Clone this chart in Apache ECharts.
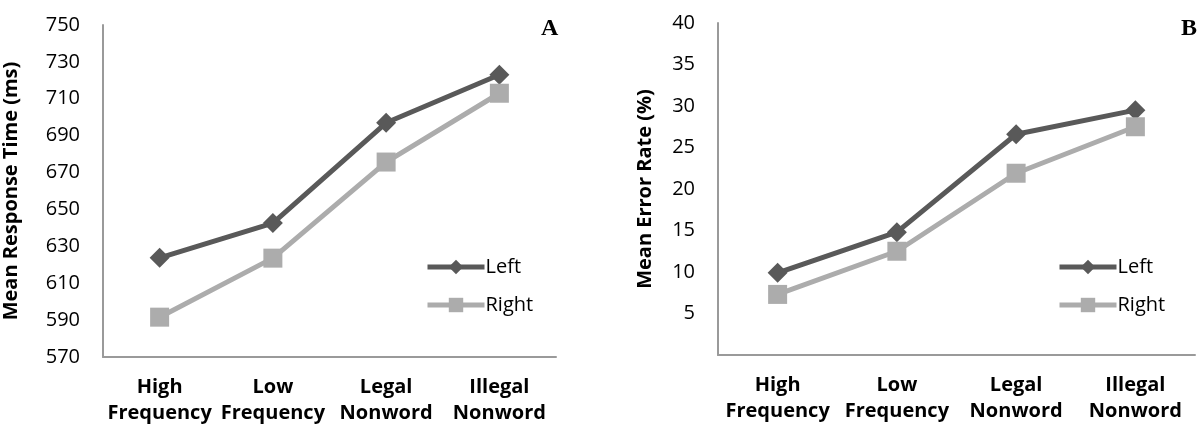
<!DOCTYPE html>
<html>
<head>
<meta charset="utf-8">
<script src="https://cdn.jsdelivr.net/npm/echarts@6/dist/echarts.min.js"></script>
<style>
  html, body { margin: 0; padding: 0; background: #fff; }
  #main { width: 1204px; height: 431px; }
</style>
</head>
<body>
<div id="main"></div>
<script>
const categories = ['High\nFrequency', 'Low\nFrequency', 'Legal\nNonword', 'Illegal\nNonword'];
const rtLeft = [623.8, 642.6, 697, 723];
const rtRight = [591.6, 623.6, 675.7, 713];
const errLeft = [9.9, 14.8, 26.6, 29.5];
const errRight = [7.3, 12.5, 21.9, 27.5];

const font = '"Open Sans", "Noto Sans", sans-serif';
const darkGray = '#595959';
const lightGray = '#acacac';

const myChart = echarts.init(document.getElementById('main'));

const xAxisBase = (gridIndex) => ({
  type: 'category',
  gridIndex: gridIndex,
  data: categories,
  boundaryGap: true,
  axisLine: { lineStyle: { color: '#9a9a9a', width: 2 } },
  axisTick: { show: false },
  axisLabel: {
    interval: 0,
    margin: 17,
    color: '#000',
    fontFamily: font,
    fontWeight: 'bold',
    fontSize: 20,
    lineHeight: 26
  }
});

const yAxisBase = (gridIndex, min, max, interval, name, nameGap) => ({
  type: 'value',
  gridIndex: gridIndex,
  min: min,
  max: max,
  interval: interval,
  name: name,
  nameLocation: 'middle',
  nameGap: nameGap,
  nameTextStyle: { fontFamily: font, fontWeight: 'bold', fontSize: 20, color: '#000' },
  splitLine: { show: false },
  axisLine: { show: true, lineStyle: { color: '#9a9a9a', width: 2 } },
  axisTick: { show: false },
  axisLabel: {
    margin: 23,
    color: '#000',
    fontFamily: font,
    fontSize: 20
  }
});

const lineSeries = (name, data, idx, color, symbol, size) => ({
  name: name,
  type: 'line',
  xAxisIndex: idx,
  yAxisIndex: idx,
  data: data,
  symbol: symbol,
  symbolSize: size,
  lineStyle: { color: color, width: 5 },
  itemStyle: { color: color },
  emphasis: { disabled: true },
  animation: false
});

const legendBase = (left) => ({
  left: left,
  top: 252,
  orient: 'vertical',
  itemWidth: 57,
  itemHeight: 18,
  itemGap: 18,
  data: ['Left', 'Right'],
  lineStyle: { width: 5 },
  textStyle: { fontFamily: font, fontSize: 20, color: '#000', padding: [0, 0, 0, -4] }
});

const rightAxis = yAxisBase(1, 0, 40, 5, 'Mean Error Rate (%)', 63);
rightAxis.axisLabel.showMinLabel = false;

const option = {
  backgroundColor: '#fff',
  title: [
    { text: 'A', left: 536, top: 12, textStyle: { fontFamily: '"Liberation Serif", serif', fontWeight: 'bold', fontSize: 24, color: '#000' } },
    { text: 'B', left: 1176, top: 12, textStyle: { fontFamily: '"Liberation Serif", serif', fontWeight: 'bold', fontSize: 24, color: '#000' } }
  ],
  legend: [legendBase(420), legendBase(1052)],
  grid: [
    { left: 102, top: 25, width: 454, height: 332 },
    { left: 718, top: 23, width: 477, height: 332 }
  ],
  xAxis: [xAxisBase(0), xAxisBase(1)],
  yAxis: [
    yAxisBase(0, 570, 750, 20, 'Mean Response Time (ms)', 82),
    rightAxis
  ],
  series: [
    lineSeries('Left', rtLeft, 0, darkGray, 'diamond', 20),
    lineSeries('Right', rtRight, 0, lightGray, 'rect', 19),
    lineSeries('Left', errLeft, 1, darkGray, 'diamond', 20),
    lineSeries('Right', errRight, 1, lightGray, 'rect', 19)
  ]
};

myChart.setOption(option);
</script>
</body>
</html>
